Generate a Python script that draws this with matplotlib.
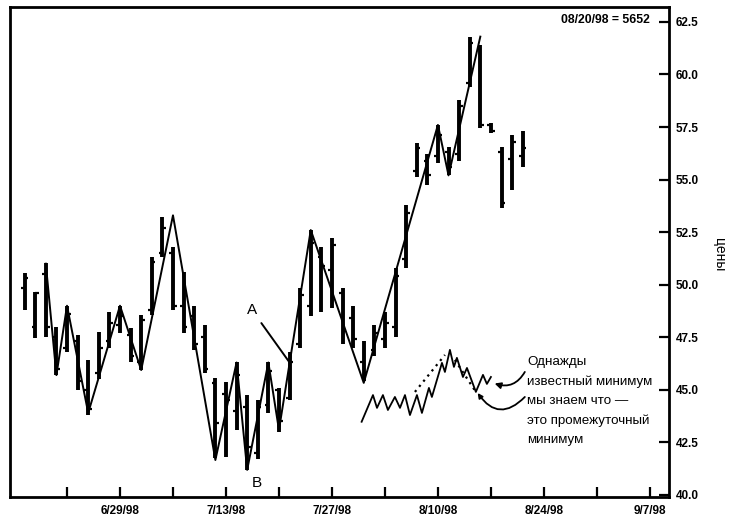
#!/usr/bin/env python

import matplotlib
matplotlib.use('Agg')
import matplotlib.pyplot as plt
import numpy as np
import pandas as pd

# daily bars, 6/16/98 .. 8/20/98
highs = [50.56, 49.66, 51.03, 48.00, 49.00, 47.60, 46.40, 47.75, 48.70, 49.00,
         47.95, 48.56, 51.30, 53.22, 51.80, 50.60, 49.00, 48.10, 45.56, 45.37,
         46.30, 44.75, 44.50, 46.30, 45.10, 46.80, 49.85, 52.60, 51.80, 52.20,
         49.85, 49.00, 47.30, 48.10, 48.70, 50.80, 53.80, 56.74, 56.20, 57.60,
         56.55, 58.80, 61.80, 61.40, 57.70, 56.55, 57.10, 57.30]
lows = [48.80, 47.47, 47.51, 45.70, 46.80, 45.00, 43.80, 45.50, 47.00, 47.70,
        46.30, 45.94, 48.56, 51.30, 48.80, 47.70, 46.90, 45.80, 41.76, 41.80,
        43.10, 41.19, 41.70, 43.90, 43.00, 44.50, 47.00, 48.50, 48.70, 48.90,
        47.20, 47.00, 45.40, 46.60, 47.00, 47.50, 50.80, 55.10, 54.75, 55.80,
        55.20, 55.90, 59.40, 57.46, 57.20, 53.65, 54.50, 55.60]
opens = [49.85, 48.00, 50.50, 47.50, 47.00, 47.30, 45.00, 45.80, 47.30, 48.10,
         47.60, 46.30, 48.80, 51.50, 51.50, 49.00, 48.50, 47.50, 45.30, 44.80,
         44.00, 44.20, 42.00, 44.30, 45.00, 44.60, 47.20, 49.00, 51.30, 50.70,
         49.60, 48.40, 46.30, 46.90, 47.40, 48.00, 51.20, 55.40, 55.90, 56.10,
         56.30, 56.20, 59.60, 61.20, 57.60, 56.30, 56.00, 56.10]
closes = [50.30, 49.60, 48.00, 46.00, 48.60, 45.40, 44.10, 47.00, 48.20, 48.50,
          46.60, 48.30, 51.10, 52.70, 49.00, 48.00, 47.20, 46.00, 43.40, 44.50,
          45.70, 42.30, 44.20, 45.90, 43.50, 46.30, 49.50, 52.00, 50.90, 51.90,
          47.80, 47.40, 45.80, 47.70, 48.20, 50.40, 53.40, 56.50, 55.20, 57.10,
          55.60, 58.50, 61.50, 57.60, 57.30, 53.90, 56.80, 56.52]

# swing line: bar number (1-based) and price
swing_bars = [3, 4, 5, 7, 10, 12, 15, 19, 21, 22, 24, 25, 28, 33, 40, 41, 44]
swing_prices = [51.0, 45.7, 49.0, 43.9, 49.0, 45.94, 53.3, 41.66, 46.3, 41.19,
                46.3, 43.09, 52.6, 45.33, 57.6, 55.2, 61.8]

# small sketch drawn under the chart (days from 6/22, price)
sketch_x = [27.8, 28.87, 29.25, 29.81, 30.28, 30.94, 31.42, 31.89, 32.36, 33.02,
            33.49, 34.15, 34.43, 35.38, 35.66, 36.13, 36.51, 36.79, 37.36, 37.74,
            38.58, 39.25, 39.62, 40.0]
sketch_y = [43.48, 44.75, 44.14, 44.75, 44.04, 44.66, 44.14, 44.75, 43.8, 44.75,
            43.9, 45.09, 44.66, 46.28, 45.85, 46.9, 46.09, 46.52, 45.61, 46.04,
            44.9, 45.71, 45.28, 45.61]
dotted_x = [[32.83, 35.66], [36.6, 38.58]]
dotted_y = [[44.9, 46.66], [46.42, 44.9]]

tick_labels = ['', '6/29/98', '', '7/13/98', '', '7/27/98', '', '8/10/98',
               '', '8/24/98', '', '9/7/98']
yticks = [40.0, 42.5, 45.0, 47.5, 50.0, 52.5, 55.0, 57.5, 60.0, 62.5]

note = ('Однажды\nизвестный минимум\nмы знаем что \u2014\n'
        'это промежуточный\nминимум')

plt.rcParams['font.family'] = ['Liberation Sans', 'DejaVu Sans']
plt.rcParams['font.weight'] = 'bold'

dates = pd.bdate_range('1998-06-16', '1998-08-20')
day0 = list(dates).index(pd.Timestamp('1998-06-22'))
x = np.arange(len(dates)) - day0
swing_x = [x[b - 1] for b in swing_bars]

fig = plt.figure(figsize=(7.4, 5.26), dpi=100)
ax = fig.add_axes([0.0135, 0.0551, 0.8905, 0.9316])

ax.vlines(x, lows, highs, color='black', lw=2.8)
ax.hlines(opens, x - 0.35, x, color='black', lw=1.6)
ax.hlines(closes, x, x + 0.35, color='black', lw=1.6)
ax.plot(swing_x, swing_prices, color='black', lw=1.4)

ax.plot(sketch_x, sketch_y, color='black', lw=1.3)
for dx, dy in zip(dotted_x, dotted_y):
    ax.plot(dx, dy, color='black', lw=1.6, ls=(0, (1, 2)))

ax.annotate('A', xy=(21.0, 46.3), xytext=(17.45, 48.8), ha='center',
            va='center', fontsize=11, fontweight='normal',
            arrowprops=dict(arrowstyle='-', lw=1.4, color='black',
                            shrinkA=3, shrinkB=0))
ax.text(17.9, 40.57, 'B', ha='center', va='center', fontsize=11,
        fontweight='normal')

ax.text(43.4, 46.62, note, ha='left', va='top', fontsize=9.6,
        fontweight='normal', linespacing=1.78)
ax.annotate('', xy=(40.35, 45.3), xytext=(43.2, 45.85),
            arrowprops=dict(arrowstyle='-|>', lw=1.3, color='black',
                            mutation_scale=9, shrinkA=0, shrinkB=0,
                            connectionstyle='arc3,rad=-0.4'))
ax.annotate('', xy=(38.75, 44.85), xytext=(43.2, 44.66),
            arrowprops=dict(arrowstyle='-|>', lw=1.3, color='black',
                            mutation_scale=7, shrinkA=0, shrinkB=0,
                            connectionstyle='arc3,rad=-0.6'))

ax.text(0.971, 0.986, '08/20/98 = 5652', transform=ax.transAxes,
        ha='right', va='top', fontsize=8.8)

ax.set_xlim(-5.38, 56.8)
ax.set_ylim(39.9, 63.21)
ax.set_xticks(np.arange(len(tick_labels)) * 5)
ax.set_xticklabels(tick_labels)
ax.set_yticks(yticks)
ax.set_yticklabels(['{:.1f}'.format(v) for v in yticks])
ax.yaxis.tick_right()
ax.tick_params(axis='both', direction='in', length=7, width=1.6,
               labelsize=8.5)
ax.tick_params(axis='x', pad=6)
ax.tick_params(axis='y', pad=5)
for spine in ax.spines.values():
    spine.set_linewidth(2)

ax.set_ylabel('цены', rotation=270, fontsize=10)
ax.yaxis.set_label_coords(1.065, 0.494)

plt.savefig('out.png', dpi=100)
